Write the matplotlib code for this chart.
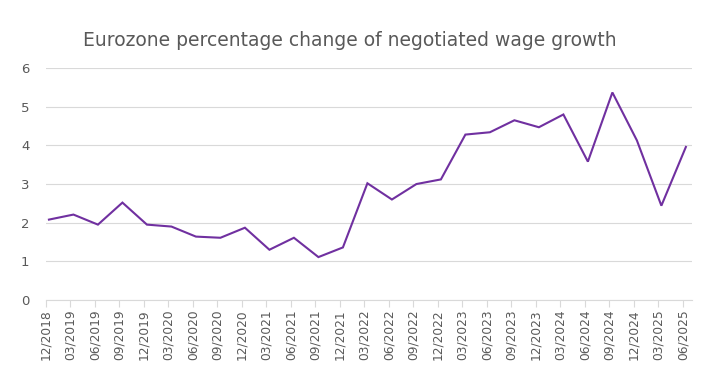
import matplotlib
matplotlib.use("Agg")
import matplotlib.pyplot as plt
from matplotlib.transforms import ScaledTranslation

# quarterly labels and values
quarters = ['12/2018', '03/2019', '06/2019', '09/2019', '12/2019', '03/2020',
            '06/2020', '09/2020', '12/2020', '03/2021', '06/2021', '09/2021',
            '12/2021', '03/2022', '06/2022', '09/2022', '12/2022', '03/2023',
            '06/2023', '09/2023', '12/2023', '03/2024', '06/2024', '09/2024',
            '12/2024', '03/2025', '06/2025']
wage_growth = [2.08, 2.21, 1.95, 2.52, 1.95, 1.90, 1.64, 1.61, 1.87, 1.30,
               1.61, 1.11, 1.36, 3.02, 2.60, 3.00, 3.12, 4.28, 4.34, 4.65,
               4.47, 4.80, 3.58, 5.37, 4.13, 2.44, 3.96]
y_ticks = [0, 1, 2, 3, 4, 5, 6]

grey_text = '#595959'
grid_col = '#d9d9d9'

fig = plt.figure(figsize=(7.26, 3.82), dpi=100)
ax = fig.add_axes([46 / 726, 0.2147, 646 / 726, 0.607])

x = list(range(len(quarters)))
ax.plot([v + 0.12 for v in x], wage_growth, color='#7030a0', linewidth=1.5,
        solid_joinstyle='miter')

ax.set_ylim(0, 6)
ax.set_xlim(0, 26.37)
ax.set_yticks(y_ticks)
ax.set_xticks(x)
ax.set_xticklabels(quarters, rotation=90, fontsize=8.8, color=grey_text)
# labels sit a little right of their tick marks
shift = ScaledTranslation(3 / 100, 0, fig.dpi_scale_trans)
for lbl in ax.get_xticklabels():
    lbl.set_transform(lbl.get_transform() + shift)
ax.tick_params(axis='y', length=0, labelsize=9.5, labelcolor=grey_text, pad=12)
ax.tick_params(axis='x', length=5, color=grid_col, pad=2)
ax.grid(axis='y', color=grid_col, linewidth=0.8)
ax.set_axisbelow(True)
for side in ['top', 'right', 'left']:
    ax.spines[side].set_visible(False)
ax.spines['bottom'].set_color(grid_col)

fig.text(0.482, 0.895, 'Eurozone percentage change of negotiated wage growth',
         ha='center', va='center', fontsize=13.5, color=grey_text)

fig.savefig('out.png', dpi=100)
